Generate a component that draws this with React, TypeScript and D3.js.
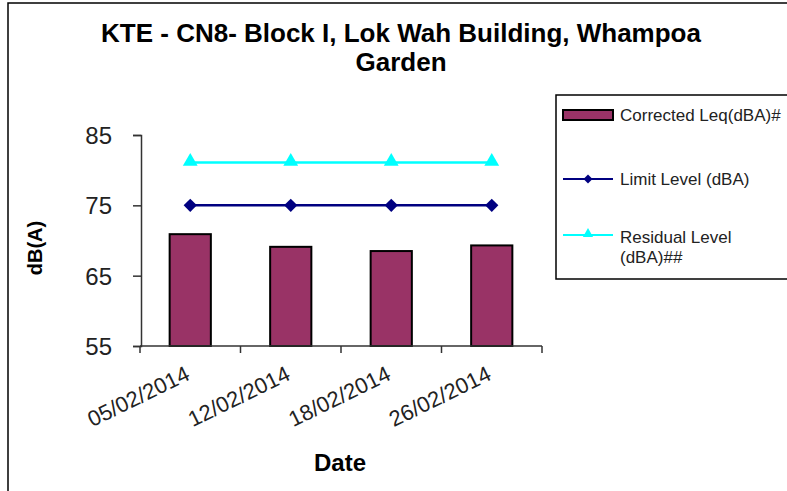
import React, { useEffect, useRef } from 'react';
import * as d3 from 'd3';

const dates = ['05/02/2014', '12/02/2014', '18/02/2014', '26/02/2014'];
const correctedLeq = [70.9, 69.1, 68.5, 69.3];
const limitLevel = [75, 75, 75, 75];
const residualLevel = [81.1, 81.1, 81.1, 81.1];
const yTicks = [55, 65, 75, 85];

const FONT = 'Liberation Sans, Arial, sans-serif';

const App = () => {
  const svgRef = useRef<SVGSVGElement>(null);

  useEffect(() => {
    const svg = d3.select(svgRef.current);
    svg.selectAll('*').remove();

    const W = 787, H = 491;
    const plot = { left: 141, right: 542, top: 135, bottom: 346 };

    // outer frame (runs off right and bottom)
    svg.append('rect')
      .attr('x', 8).attr('y', 3).attr('width', W).attr('height', H)
      .attr('fill', 'none').attr('stroke', '#000').attr('stroke-width', 1.5);

    // title
    const title = svg.append('text')
      .attr('text-anchor', 'middle')
      .attr('font-family', FONT).attr('font-weight', 'bold').attr('font-size', 26)
      .attr('fill', '#000');
    title.append('tspan').attr('x', 401).attr('y', 42).text('KTE - CN8- Block I, Lok Wah Building, Whampoa');
    title.append('tspan').attr('x', 401).attr('y', 71).text('Garden');

    const x = d3.scaleBand().domain(dates).range([140, plot.right]).padding(0);
    const y = d3.scaleLinear().domain([55, 85]).range([plot.bottom, plot.top]);
    const bw = x.bandwidth();
    const cx = (d: string) => (x(d) as number) + bw / 2;

    // bars
    svg.append('g').selectAll('rect')
      .data(correctedLeq)
      .enter().append('rect')
      .attr('x', (d, i) => cx(dates[i]) - bw * 0.205)
      .attr('width', bw * 0.41)
      .attr('y', d => y(d))
      .attr('height', d => plot.bottom - y(d))
      .attr('fill', '#993366')
      .attr('stroke', '#000').attr('stroke-width', 2);

    // axes
    const yAxis = svg.append('g').attr('transform', `translate(${plot.left},0)`)
      .call(d3.axisLeft(y).tickValues(yTicks).tickSize(8).tickPadding(21).tickFormat(d3.format('d')));
    yAxis.select('.domain').attr('stroke', '#333').attr('stroke-width', 1.5);
    yAxis.selectAll('.tick line').attr('stroke', '#333').attr('stroke-width', 1.5);
    yAxis.selectAll('.tick text')
      .attr('font-family', FONT).attr('font-size', 24).attr('fill', '#222').attr('dy', '0.36em');

    const xAxis = svg.append('g').attr('transform', `translate(0,${plot.bottom})`);
    xAxis.append('line')
      .attr('x1', 140).attr('x2', plot.right).attr('y1', 0).attr('y2', 0)
      .attr('stroke', '#333').attr('stroke-width', 1.5);
    xAxis.selectAll('line.tk')
      .data(dates.concat(['end']))
      .enter().append('line')
      .attr('class', 'tk')
      .attr('x1', (d, i) => 140 + i * bw).attr('x2', (d, i) => 140 + i * bw)
      .attr('y1', 0).attr('y2', 7)
      .attr('stroke', '#333').attr('stroke-width', 1.5);
    xAxis.selectAll('text')
      .data(dates)
      .enter().append('text')
      .attr('transform', d => `translate(${cx(d) + 1},${33}) rotate(-26)`)
      .attr('text-anchor', 'end')
      .attr('font-family', FONT).attr('font-size', 22).attr('fill', '#222')
      .text(d => d);

    // lines with markers
    const line = d3.line<number>().x((d, i) => cx(dates[i])).y(d => y(d));

    svg.append('path').datum(residualLevel)
      .attr('d', line).attr('fill', 'none').attr('stroke', '#00FFFF').attr('stroke-width', 2.5);
    svg.append('g').selectAll('path')
      .data(residualLevel).enter().append('path')
      .attr('d', d3.symbol().type(d3.symbolTriangle).size(95))
      .attr('transform', (d, i) => `translate(${cx(dates[i])},${y(d) - 1})`)
      .attr('fill', '#00FFFF');

    svg.append('path').datum(limitLevel)
      .attr('d', line).attr('fill', 'none').attr('stroke', '#000080').attr('stroke-width', 2.5);
    svg.append('g').selectAll('path')
      .data(limitLevel).enter().append('path')
      .attr('d', d3.symbol().type(d3.symbolSquare).size(88))
      .attr('transform', (d, i) => `translate(${cx(dates[i])},${y(d)}) rotate(45)`)
      .attr('fill', '#000080');

    // axis titles
    svg.append('text')
      .attr('transform', 'translate(42,248) rotate(-90)')
      .attr('text-anchor', 'middle')
      .attr('font-family', FONT).attr('font-weight', 'bold').attr('font-size', 20)
      .text('dB(A)');
    svg.append('text')
      .attr('x', 340).attr('y', 471)
      .attr('text-anchor', 'middle')
      .attr('font-family', FONT).attr('font-weight', 'bold').attr('font-size', 24)
      .text('Date');

    // legend
    const lg = svg.append('g');
    lg.append('rect')
      .attr('x', 556).attr('y', 95).attr('width', 260).attr('height', 184)
      .attr('fill', '#fff').attr('stroke', '#000').attr('stroke-width', 1.5);
    lg.append('rect')
      .attr('x', 563).attr('y', 110).attr('width', 50).attr('height', 10)
      .attr('fill', '#993366').attr('stroke', '#000').attr('stroke-width', 2);
    lg.append('line').attr('x1', 563).attr('x2', 613).attr('y1', 179).attr('y2', 179)
      .attr('stroke', '#000080').attr('stroke-width', 2);
    lg.append('path').attr('d', d3.symbol().type(d3.symbolSquare).size(40))
      .attr('transform', 'translate(588,179) rotate(45)').attr('fill', '#000080');
    lg.append('line').attr('x1', 563).attr('x2', 613).attr('y1', 235).attr('y2', 235)
      .attr('stroke', '#00FFFF').attr('stroke-width', 2);
    lg.append('path').attr('d', d3.symbol().type(d3.symbolTriangle).size(45))
      .attr('transform', 'translate(588,234)').attr('fill', '#00FFFF');

    const legendText = (tx: number, ty: number, s: string) =>
      lg.append('text').attr('x', tx).attr('y', ty)
        .attr('font-family', FONT).attr('font-size', 17).attr('fill', '#222').text(s);
    legendText(620, 121, 'Corrected Leq(dBA)#');
    legendText(620, 185, 'Limit Level (dBA)');
    legendText(620, 243, 'Residual Level');
    legendText(620, 263, '(dBA)##');
  }, []);

  return (
    <svg
      ref={svgRef}
      width={787}
      height={491}
      style={{ position: 'absolute', left: 0, top: 0, background: '#fff' }}
    />
  );
};

export default App;
